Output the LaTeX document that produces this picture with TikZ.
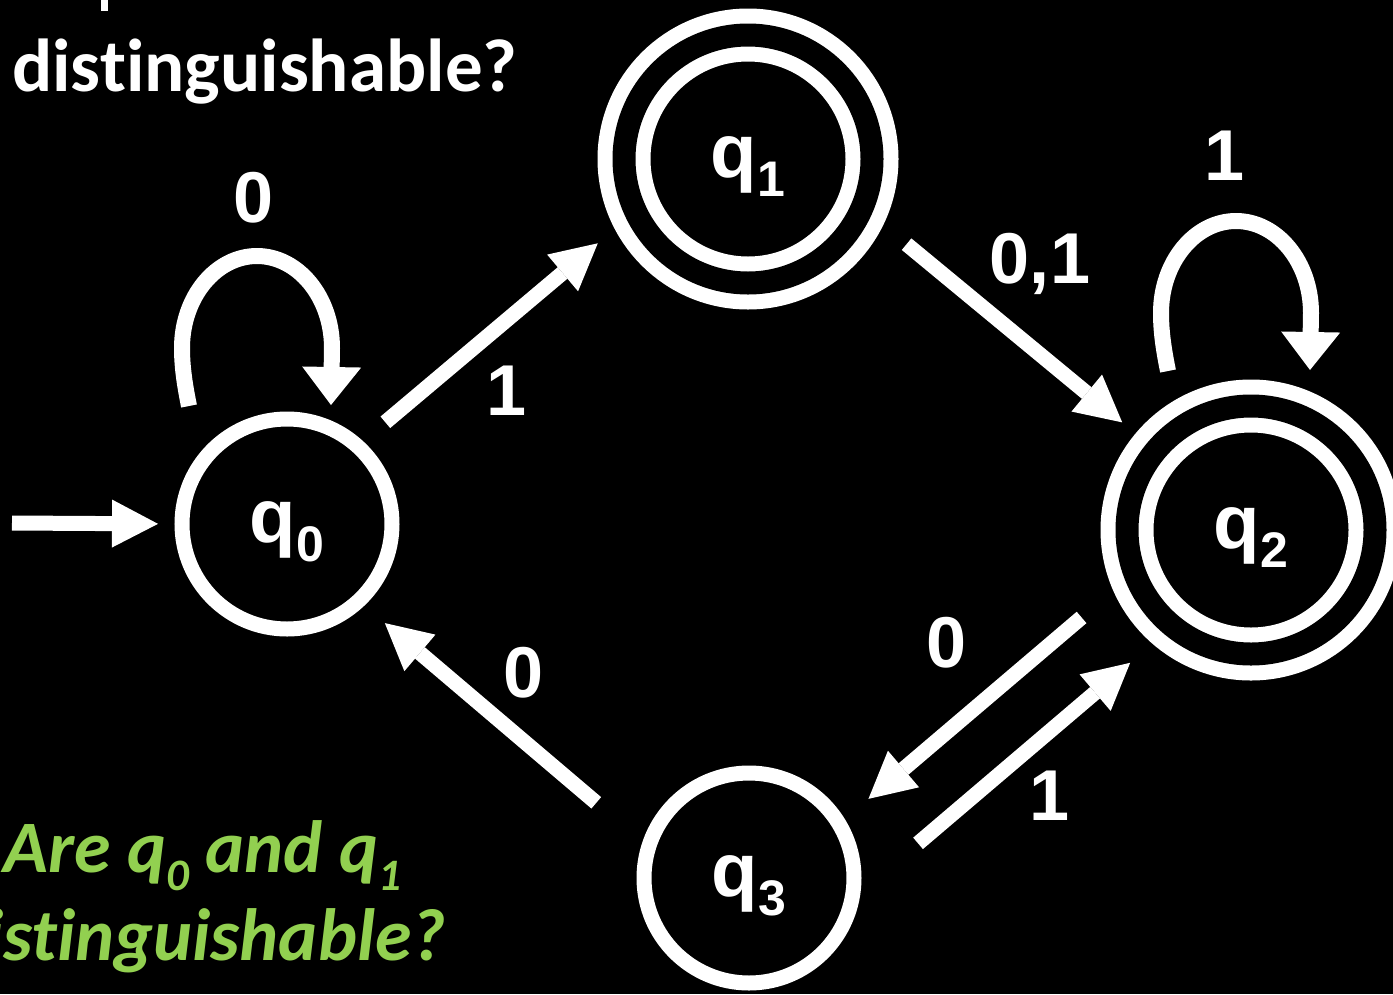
\documentclass[tikz,border=0pt]{standalone}
\usepackage{fontspec}
\setmainfont{Liberation Sans}
\newfontfamily\calibri[Ligatures=NoCommon]{Carlito}
\usetikzlibrary{arrows.meta}
\definecolor{askgreen}{RGB}{146,208,80}

% state name with a lowered index
\newcommand\qs[1]{q\raisebox{-19pt}{\fontsize{50pt}{50pt}\selectfont #1}}
\newcommand\qi[1]{q\raisebox{-18pt}{\fontsize{45pt}{45pt}\selectfont #1}}

\tikzset{
  stnode/.style={circle, draw=white, line width=15pt, minimum size=210pt,
    inner sep=0pt, outer sep=0pt, text=white,
    font=\bfseries\fontsize{76pt}{76pt}\selectfont,
    text height=40pt, text depth=4pt},
  accnode/.style={stnode, minimum size=248pt, double=black, double distance=23pt},
  trans/.style={draw=white, line width=15pt,
    -{Triangle[length=46pt, width=48pt, line width=0pt]}},
  looptrans/.style={draw=white, line width=16pt,
    -{Triangle[length=38pt, width=59pt, line width=0pt]}},
  sym/.style={text=white, font=\bfseries\fontsize{72pt}{72pt}\selectfont,
    anchor=base, inner sep=0pt},
  quest/.style={inner sep=0pt, font=\calibri\bfseries\fontsize{74pt}{74pt}\selectfont},
}

\begin{document}
\begin{tikzpicture}[x=1pt, y=-1pt]
  \useasboundingbox (0,0) rectangle (1393,994);
  \fill[black] (0,0) rectangle (1393,994);
  \clip (0,0) rectangle (1393,994);

  % states
  \node[stnode]  (q0) at (287,524) {\qs{0}};
  \node[accnode] (q1) at (748,159) {\qs{1}};
  \node[accnode] (q2) at (1251,530) {\qs{2}};
  \node[stnode]  (q3) at (749,878) {\qs{3}};

  % start arrow
  \coordinate (init) at (12,523);
  \draw[trans, shorten >=24pt] (init) -- (q0.west);

  % transitions
  \draw[trans, shorten <=36.75pt, shorten >=49.5pt] (q0.48.4) -- (q1.205.5);
  \draw[trans, shorten <=57.65pt, shorten >=43.85pt] (q1.337.7) -- (q2.140.7);
  \draw[trans, shorten <=68.7pt, shorten >=34.45pt] (q3.163) -- (q0.313);
  \draw[trans, shorten <=69.5pt, shorten >=38.7pt] (q2.200.4) -- (q3.31.7);
  \draw[trans, shorten <=87.15pt, shorten >=56.25pt] (q3.348.1) -- (q2.231.8);

  % self loops: short rise, half ellipse over the top, drop onto the state
  \draw[looptrans] ([shift={(-98,-118)}]q0.center)
    .. controls +(-4,-20) and +(0,20) .. ++(-7,-58)
    .. controls +(0,-51) and +(-41,0) .. ++(75,-92)
    .. controls +(41,0) and +(0,-51) .. ++(75,92)
    -- ++(-1,57);
  \draw[looptrans] ([shift={(-83,-159)}]q2.center)
    .. controls +(-4,-20) and +(0,20) .. ++(-7,-58)
    .. controls +(0,-51) and +(-41,0) .. ++(75,-92)
    .. controls +(41,0) and +(0,-51) .. ++(75,92)
    -- ++(-1,57);

  % transition symbols
  \node[sym] (l00) at (254,222) {0};
  \node[sym] (l01) at (507,415) {1};
  \node[sym] (l12) at (1040,283) {0,1};
  \node[sym] (l22) at (1225,180) {1};
  \node[sym] (l30) at (524,697) {0};
  \node[sym] (l23) at (947,667) {0};
  \node[sym] (l32) at (1050,820) {1};

  % questions
  \fill[white] (101,0) rectangle (108,11);
  \node[quest, text=white, anchor=base west, font=\calibri\bfseries\fontsize{75pt}{75pt}\selectfont]
    (tq) at (12,91) {distinguishable?};
  \node[quest, text=askgreen, anchor=base west] (ga) at (3,872)
    {\itshape Are \qi{0} and \qi{1}};
  \node[quest, text=askgreen, anchor=base east] (gb) at (446,960)
    {\itshape distinguishable?};
\end{tikzpicture}
\end{document}
